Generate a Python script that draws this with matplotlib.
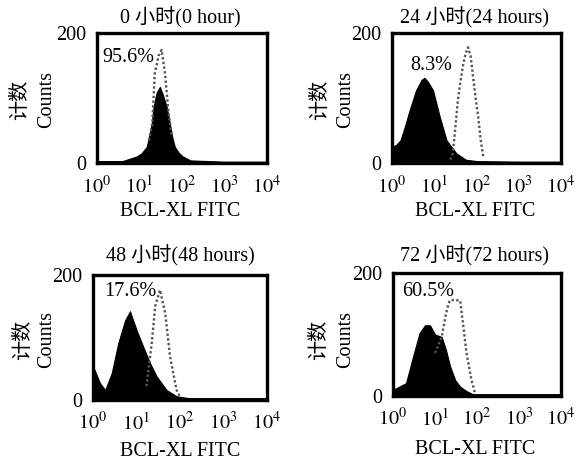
import matplotlib
matplotlib.use("Agg")
import matplotlib.pyplot as plt
from matplotlib.ticker import FixedLocator, FixedFormatter, NullLocator
import numpy as np

plt.rcParams['font.family'] = ['Liberation Serif', 'Noto Sans CJK SC', 'DejaVu Sans']
plt.rcParams['mathtext.fontset'] = 'stix'

# ---- data (log10 fluorescence positions, counts) ----
titles = ["0 小时(0 hour)", "24 小时(24 hours)", "48 小时(48 hours)", "72 小时(72 hours)"]
percents = ["95.6%", "8.3%", "17.6%", "60.5%"]
xtick_labels = ["$10^{0}$", "$10^{1}$", "$10^{2}$", "$10^{3}$", "$10^{4}$"]
xticks = [1, 10, 100, 1000, 10000]
ytick_labels = ["0", "200"]
yticks = [0, 200]

fill_x_0h = [0, 0.6, 0.93, 1.05, 1.17, 1.23, 1.29, 1.33, 1.4, 1.48, 1.55, 1.64, 1.71, 1.77, 1.83, 1.92, 2.02, 2.2, 3.0, 4.0]
fill_c_0h = [3, 3, 10, 15, 25, 42, 62, 86, 108, 117, 105, 86, 62, 40, 25, 16, 10, 4, 2, 2]
dot_x_0h = [1.22, 1.3, 1.36, 1.45, 1.52, 1.6, 1.68, 1.76]
dot_c_0h = [35, 60, 138, 165, 174, 138, 80, 40]

fill_x_24h = [0, 0.1, 0.2, 0.3, 0.42, 0.57, 0.7, 0.77, 0.85, 0.97, 1.13, 1.29, 1.52, 1.75, 2.0, 3.0, 4.0]
fill_c_24h = [25, 28, 35, 55, 82, 112, 128, 131, 125, 112, 71, 35, 15, 5, 3, 2, 2]
dot_x_24h = [1.38, 1.44, 1.5, 1.56, 1.62, 1.68, 1.74, 1.8, 1.86, 1.92, 1.98, 2.04, 2.1, 2.16]
dot_c_24h = [5, 15, 55, 97, 125, 150, 168, 178, 165, 132, 100, 71, 35, 10]

fill_x_48h = [0, 0.16, 0.28, 0.43, 0.58, 0.74, 0.85, 1.0, 1.15, 1.31, 1.46, 1.69, 1.92, 2.2, 3.0, 4.0]
fill_c_48h = [54, 27, 16, 43, 91, 128, 142, 112, 86, 59, 38, 16, 6, 3, 3, 3]
dot_x_48h = [1.23, 1.35, 1.43, 1.54, 1.66, 1.77, 1.92, 2.0]
dot_c_48h = [22, 91, 150, 176, 139, 70, 16, 5]

fill_x_72h = [0, 0.31, 0.48, 0.63, 0.76, 0.88, 1.0, 1.16, 1.26, 1.36, 1.48, 1.6, 1.75, 1.9, 2.2, 3.0, 4.0]
fill_c_72h = [10, 21, 65, 102, 115, 115, 100, 96, 75, 48, 26, 15, 8, 3, 3, 3, 3]
dot_x_72h = [1.0, 1.16, 1.25, 1.32, 1.36, 1.48, 1.6, 1.68, 1.75, 1.87, 1.95]
dot_c_72h = [70, 96, 130, 150, 156, 156, 155, 110, 70, 26, 5]

panels = [
    (fill_x_0h, fill_c_0h, dot_x_0h, dot_c_0h),
    (fill_x_24h, fill_c_24h, dot_x_24h, dot_c_24h),
    (fill_x_48h, fill_c_48h, dot_x_48h, dot_c_48h),
    (fill_x_72h, fill_c_72h, dot_x_72h, dot_c_72h),
]

W, H = 586, 466
fig = plt.figure(figsize=(W / 100, H / 100), dpi=100)

# axes boxes in pixels: left, top, right, bottom
boxes = [(97, 33, 267, 163), (392, 33, 561, 163), (93, 275, 267, 400), (393, 273, 561, 396)]
title_pos = [(180, 18), (475, 18), (180, 256), (475, 256)]
pct_pos = [(128, 57), (431, 65), (130, 291), (428, 291)]
ylab_cn = [(21, 100), (321, 100), (24, 340), (320, 340)]
ylab_en = [(47, 100), (346, 100), (47, 340), (346, 340)]
xlab_pos = [(180, 212), (475, 212), (180, 452), (475, 450)]

def fx(x):
    return x / W

def fy(y):
    return 1 - y / H

for i, (bx, (fxl, fcl, dxl, dcl)) in enumerate(zip(boxes, panels)):
    l, t, r, b = bx
    ax = fig.add_axes([fx(l), fy(b), (r - l) / W, (b - t) / H])
    ax.set_xscale('log')
    xf = np.power(10.0, fxl)
    xd = np.power(10.0, dxl)
    ax.fill_between(xf, 0, fcl, color='black', linewidth=0.8, edgecolor='black')
    ax.plot(xd, dcl, color='#555555', linestyle=(0, (1, 1)), linewidth=1.7)
    ax.set_xlim(1, 10000)
    ax.set_ylim(0, 200)
    ax.xaxis.set_major_locator(FixedLocator(xticks))
    ax.xaxis.set_major_formatter(FixedFormatter(xtick_labels))
    ax.xaxis.set_minor_locator(NullLocator())
    ax.yaxis.set_major_locator(FixedLocator(yticks))
    ax.yaxis.set_major_formatter(FixedFormatter(ytick_labels))
    ax.tick_params(axis='both', labelsize=14.5, length=0, width=1.2)
    ax.tick_params(axis='x', pad=9)
    ax.tick_params(axis='y', pad=8)
    for s in ax.spines.values():
        s.set_linewidth(2.4)
    fig.text(fx(title_pos[i][0]), fy(title_pos[i][1]), titles[i], ha='center', va='center', fontsize=14.5)
    fig.text(fx(pct_pos[i][0]), fy(pct_pos[i][1]), percents[i], ha='center', va='center', fontsize=14.5)
    fig.text(fx(ylab_cn[i][0]), fy(ylab_cn[i][1]), "计数", ha='center', va='center', rotation=90, fontsize=14.5)
    fig.text(fx(ylab_en[i][0]), fy(ylab_en[i][1]), "Counts", ha='center', va='center', rotation=90, fontsize=14.5)
    fig.text(fx(xlab_pos[i][0]), fy(xlab_pos[i][1]), "BCL-XL FITC", ha='center', va='center', fontsize=14.5)

fig.savefig("out.png", dpi=100)
